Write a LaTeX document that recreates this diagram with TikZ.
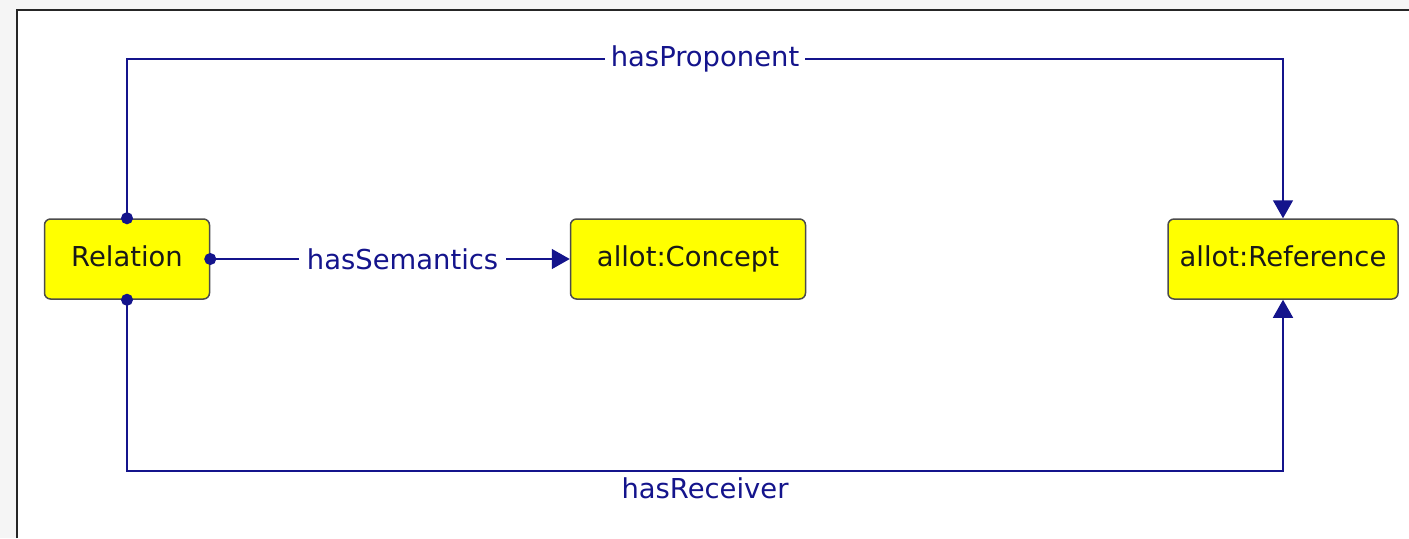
\documentclass[tikz,border=0pt]{standalone}
\usepackage{fontspec}
\setmainfont{DejaVu Sans}
\usetikzlibrary{arrows.meta}
\definecolor{navy}{RGB}{20,20,140}
\definecolor{classyellow}{RGB}{255,255,0}

\begin{document}
\begin{tikzpicture}[x=0.5pt,y=-0.5pt,
    every node/.style={font=\fontsize{13.7}{16}\selectfont},
    cls/.style={draw=black!70,line width=0.75pt,fill=classyellow,text=black!90,rounded corners=3pt,
      minimum height=40pt,text height=10pt,text depth=2.5pt},
    rel/.style={draw=navy,line width=0.75pt,shorten <=-3pt,{Circle[length=6pt]}-{Triangle[width=10pt,length=9pt]}},
    lbl/.style={fill=white,text=navy,inner xsep=3pt,inner ysep=3pt}]
  \useasboundingbox (0,0) rectangle (1409,538);
  \fill[gray!8] (0,0) rectangle (1409,538);
  \fill[white] (17,10) rectangle (1409,538);
  \draw[black!85,line width=1pt] (17,538) -- (17,10) -- (1409,10);
  \node[cls,minimum width=82.5pt] (Relation) at (127,259) {Relation};
  \node[cls,minimum width=117.5pt] (Concept) at (688,259) {allot:Concept};
  \node[cls,minimum width=115pt] (Reference) at (1283,259) {allot:Reference};
  \coordinate (top) at (705,59);
  \coordinate (bot) at (705,471);
  \draw[rel] (Relation.north) |- (top -| Reference.north) node[lbl,pos=0.75] {hasProponent} -- (Reference.north);
  \draw[rel] (Relation.east) -- node[lbl,pos=0.535,inner xsep=4pt] {hasSemantics} (Concept.west);
  \draw[rel] (Relation.south) |- (bot -| Reference.south) node[lbl,pos=0.75,anchor=north] {hasReceiver} -- (Reference.south);
\end{tikzpicture}
\end{document}
